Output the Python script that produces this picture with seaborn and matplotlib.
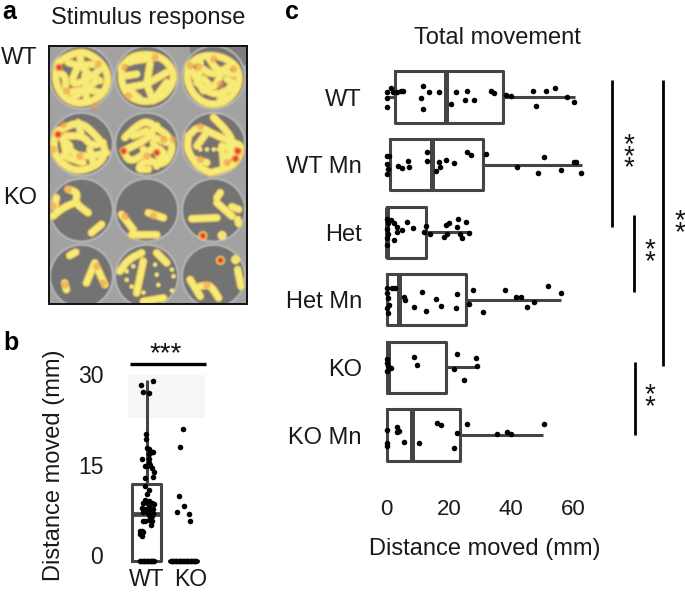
import numpy as np
import pandas as pd
import matplotlib
matplotlib.use("Agg")
import matplotlib.pyplot as plt
from matplotlib.patches import Circle, Rectangle
import seaborn as sns

sns.set_theme(style="white")
plt.rcParams['font.family'] = ['Liberation Sans', 'DejaVu Sans']

W, H = 685, 592
BOX = '#444444'
FS = 17

# ---- panel c data (mm), with vertical jitter in category units
c_groups = ['WT', 'WT Mn', 'Het', 'Het Mn', 'KO', 'KO Mn']
c_five = {
    'WT':     [0.2, 2.7, 19.0, 37.5, 60.5],
    'WT Mn':  [0.1, 1.1, 14.7, 31.0, 62.6],
    'Het':    [0.0, 0.0, 0.3, 12.6, 27.0],
    'Het Mn': [0.0, 0.0, 4.1, 25.5, 56.0],
    'KO':     [0.0, 0.0, 0.6, 19.0, 29.0],
    'KO Mn':  [0.0, 0.0, 8.1, 23.6, 50.3],
}
wt_x = [0.3, 1.3, 0.3, 2.2, 3.5, 4.5, 5.2, 0.2, 11.8, 13.6, 11.0, 11.8, 17.0, 22.3, 25.8, 25.2, 28.1, 20.8, 33.4, 34.4, 38.2, 39.8, 46.9, 51.3, 53.9, 47.9, 58.0, 60.3]
wt_j = [-.07, -.13, .01, -.07, -.08, -.09, -.09, .15, -.17, -.08, .01, .18, -.08, -.07, -.09, .05, .04, .11, -.09, -.06, -.03, -.01, -.09, -.09, -.13, .13, 0, .07]
wtmn_x = [.3, .9, .3, .6, .1, 3.8, 5.0, 6.8, 7.1, 13.1, 13.1, 15.9, 17.2, 16.7, 19.2, 21.6, 25.8, 27.0, 32.0, 42.0, 50.5, 48.7, 55.9, 60.2, 60.9, 62.5]
wtmn_j = [-.12, -.12, -.01, .07, .14, .02, .05, -.05, .04, -.19, -.06, .10, .04, -.04, -.07, -.02, -.18, -.14, -.15, .04, -.11, .13, .08, -.04, -.04, .12]
het_x = [.1, 1.4, .6, 2.4, .3, 3.3, 3.5, 5.0, 6.5, 8.5, .6, .3, 2.5, .3, 12.7, 12.0, 13.9, 18.6, 19.3, 19.0, 20.2, 23.0, 22.6, 25.5, 23.6, 24.1, 26.6]
het_j = [-.20, -.18, -.13, -.13, -.05, -.08, 0, -.03, -.15, -.06, .02, .09, .12, .19, -.09, 0, .03, .07, .02, -.10, -.14, -.19, -.08, -.15, .02, .08, .01]
hetmn_x = [.3, 1.7, 2.7, .3, .6, .7, .3, .6, 5.6, 5.9, 11.3, 8.7, 12.6, 15.9, 17.5, 22.2, 22.7, 27.9, 26.4, 30.9, 38.1, 41.6, 43.0, 47.4, 45.2, 51.7, 56.0]
hetmn_j = [-.17, -.18, -.17, -.10, -.02, .07, .12, .19, -.04, 0, -.11, .11, .16, -.01, .09, .12, -.09, -.14, .06, .18, -.14, -.04, -.04, .03, .11, -.20, -.10]
ko_x = [.3, .3, .5, 1.4, .3, 8.7, 9.9, 22.6, 21.7, 28.6, 29.1, 25.0]
ko_j = [-.12, -.06, -.02, .01, .06, -.15, -.03, -.20, .02, -.14, -.02, .18]
komn_x = [.3, 3.3, 4.1, 3.3, .2, .2, 5.6, 10.3, 16.3, 17.4, 22.7, 21.7, 25.7, 35.6, 38.8, 39.9, 50.5]
komn_j = [-.07, -.12, -.06, -.05, .12, .17, .10, .12, -.18, -.15, -.03, .19, -.17, -.01, -.04, -.02, -.16]
c_points = [(wt_x, wt_j), (wtmn_x, wtmn_j), (het_x, het_j), (hetmn_x, hetmn_j), (ko_x, ko_j), (komn_x, komn_j)]

# ---- panel b data (mm), with horizontal jitter in category units
b_groups = ['WT', 'KO']
b_five = {'WT': [-1, -1, 6.8, 11.8, 29.0], 'KO': [-1, -1, -1, -1, -1]}
b_wt_y = [28.9, 28.2, 27.0, 26.8, 20.0, 19.2, 17.8, 17.5, 17.0, 16.7, 17.0, 16.0, 16.0, 15.2, 14.8, 14.8, 14.9, 14.5, 13.8, 13.0, 12.7, 11.5, 10.8, 10.1, 9.1, 9.0, 8.6, 8.6, 8.6, 8.5, 7.8, 7.7, 7.7, 8.0, 7.7, 7.7, 7.2, 7.2, 7.2, 7.0, 6.6, 6.5, 5.7, 5.7, 5.8, 5.7, 4.9, 4.0, 3.9, 3.8, 3.5, 3.2, -1, -1, -1, -1, -1, -1, -1, -1, -1, -1, -1, -1]
b_wt_j = [.16, -.15, -.11, .05, -.03, -.03, 0, .05, .14, .07, .16, -.14, .05, .06, -.05, .02, .09, .14, .2, .18, -.05, -.05, .05, 0, -.05, .05, -.09, 0, .14, .2, -.14, -.07, 0, .07, .14, .18, -.09, 0, .09, .16, .05, .14, -.11, -.05, .07, .14, .11, -.18, -.14, -.09, -.18, -.14, -.18, -.15, -.11, -.07, -.04, 0, .04, .08, .11, .15, .18, .21]
b_ko_y = [20.9, 17.9, 9.8, 8.2, 7.1, 6.8, 5.6] + [-1] * 20
b_ko_j = [0, -.09, -.11, .02, -.18, .16, .18, -.35, -.31, -.28, -.24, -.2, -.17, -.13, -.09, -.06, -.02, .02, .06, .09, .13, .17, .2, .24, .28, .31, .35]

# ---- panel a: tracks seen in each well (picture coordinates, x3)
tracks = [
    [(175,190),(215,165),(255,158),(300,185),(325,225),(320,270),(285,305),(230,315),(185,290),(165,240),(175,190)],
    [(205,190),(235,200),(290,195)], [(235,200),(210,260),(270,240),(300,210)], [(200,280),(260,270),(300,280)], [(255,230),(260,300)],
    [(170,220),(200,230),(195,290)], [(240,170),(250,215),(300,245)], [(215,300),(285,250)],
    [(365,205),(395,170),(460,165),(505,190),(525,235),(500,285),(450,310),(395,300),(365,260),(365,205)],
    [(440,255),(500,220)], [(440,255),(450,195)], [(405,185),(470,175)], [(440,255),(385,265)], [(440,255),(460,305)], [(380,230),(410,225)],
    [(390,190),(420,170)], [(500,250),(470,290)], [(385,270),(420,300)],
    [(565,200),(600,170),(660,170),(710,200),(720,250),(690,300),(640,320),(590,300),(560,250),(565,200)],
    [(600,205),(640,230),(690,200)], [(590,250),(640,290),(690,270)], [(660,230),(640,270),(610,240)], [(680,240),(710,260)],
    [(575,215),(610,275)], [(625,175),(650,215),(700,225)], [(600,190),(595,240)], [(660,300),(700,250)],
    [(175,395),(240,365),(290,410),(320,450),(300,495),(230,520),(170,480),(160,430),(175,395)],
    [(200,410),(250,410),(275,440),(310,430)], [(200,440),(230,470),(280,470),(320,460)], [(190,470),(250,490)], [(190,420),(200,470)],
    [(170,400),(210,440)], [(235,370),(245,410)], [(280,490),(270,450)],
    [(375,415),(410,380),(440,365),(470,385),(505,410),(520,450),(490,500),(440,480),(410,510),(445,510)],
    [(370,455),(400,440),(440,420),(470,380)], [(370,455),(390,490),(440,460),(470,440),(500,470),(470,500)], [(450,410),(500,430)], [(400,410),(440,395)],
    [(460,430),(480,480)], [(430,450),(450,490)],
    [(565,410),(595,380),(640,405),(700,430),(725,440),(710,490),(670,510),(630,520)],
    [(565,410),(560,450),(590,500),(630,520)], [(640,355),(680,395),(700,430),(680,480)], [(620,400),(590,440)], [(680,440),(700,470)],
    [(580,480),(620,490)], [(665,440),(670,500)],
    [(205,570),(235,580),(225,610),(265,640)], [(225,610),(190,625),(160,650)], [(170,595),(165,625)], [(275,700),(305,675)],
    [(365,645),(400,690)], [(445,640),(490,655)], [(395,705),(470,705)],
    [(660,580),(650,595)], [(650,610),(695,650)], [(695,622),(715,630)], [(575,658),(650,655)], [(712,660),(715,672)],
    [(210,768),(228,758)], [(285,790),(260,850)], [(285,790),(315,855)], [(195,850),(200,870)],
    [(360,815),(385,780),(425,760)], [(430,785),(410,880)], [(470,760),(500,790)], [(430,905),(490,895)],
    [(570,840),(600,890)], [(600,860),(630,855),(655,895)], [(712,810),(722,860)],
]
small_dots = [(380,815),(400,800),(380,840),(395,860),(430,878),(465,795),(470,825),(475,855),(520,830),(515,810),(515,872),(600,450),(620,450),(640,450),(655,450)]
big_dots = [(608,708),(665,707),(660,782),(705,780)]
hot_strong = [(178,205),(175,405),(370,455),(470,460),(705,478),(712,455),(608,708),(660,782)]
hot_soft = [(200,275),(295,195),(375,205),(385,290),(465,175),(570,200),(595,203),(660,255),(190,375),(490,420),(600,380),(680,490),(290,800),(310,850),(195,855),(620,855),(160,620),(205,570),(375,650),(460,650),(285,320),(520,420),(240,470),(440,470),(640,180),(700,210),(160,450),(600,480)]
well_x = [245, 440, 640]
well_y = [235, 435, 632, 830]

# ---- right-hand significance marks (y extents in pixels, labels)
brackets = [(612, 80, 227), (634, 215, 292), (663, 80, 366), (635, 362, 435)]
stars = [(166, 349, 3), (629, 153, 3), (650, 252, 2), (680, 223, 2), (650, 397.5, 2)]


def px_axes(fig, l, t, r, b, **kw):
    return fig.add_axes([l / W, 1 - b / H, (r - l) / W, (b - t) / H], **kw)


def rounded(points, passes=3):
    """Corner-cutting so that hand-read tracks look like smooth paths."""
    p = np.array(points, float)
    for _ in range(passes):
        q = [p[0]]
        for a, b in zip(p[:-1], p[1:]):
            q += [a * .75 + b * .25, a * .25 + b * .75]
        q.append(p[-1])
        p = np.array(q)
    return p


fig = plt.figure(figsize=(W / 100, H / 100), dpi=100, facecolor='white')

# ---- panel a rendered softly, then placed as an image
al, at, ar, ab = 148, 138, 740, 913
fa = plt.figure(figsize=(6.0, 7.8), dpi=100)
xa = fa.add_axes([0, 0, 1, 1])
xa.set_xlim(al, ar); xa.set_ylim(ab, at); xa.axis('off')
xa.add_patch(Rectangle((al, at), ar - al, ab - at, color='#a2a2a2'))
xa.add_patch(Rectangle((570, at), 170, 60, color='#7d7d7d'))
for wy in well_y:
    for wx in well_x:
        xa.add_patch(Circle((wx, wy), 97, fc='#b9b9b9', ec='none'))
        xa.add_patch(Circle((wx, wy), 91, fc='#737373', ec='none'))
for t in tracks:
    p = rounded(t)
    xa.plot(p[:, 0], p[:, 1], color='#e8c25c', lw=18, solid_capstyle='round', solid_joinstyle='round', zorder=3)
for t in tracks:
    p = rounded(t)
    xa.plot(p[:, 0], p[:, 1], color='#f8ec78', lw=12.5, solid_capstyle='round', solid_joinstyle='round', zorder=4)
dx, dy = zip(*small_dots)
xa.scatter(dx, dy, s=110, color='#f4e470', linewidths=0, zorder=5)
dx, dy = zip(*big_dots)
xa.scatter(dx, dy, s=420, color='#f4e470', linewidths=0, zorder=5)
hx, hy = zip(*hot_soft)
xa.scatter(hx, hy, s=260, color='#ef9a4c', alpha=.6, linewidths=0, zorder=6)
hx, hy = zip(*hot_strong)
xa.scatter(hx, hy, s=300, color='#f08a45', alpha=.8, linewidths=0, zorder=6)
xa.scatter(hx, hy, s=90, color='#e5352a', alpha=.95, linewidths=0, zorder=7)
fa.canvas.draw()
img = np.asarray(fa.canvas.buffer_rgba())[..., :3].astype(float)
plt.close(fa)
kernel = np.array([1, 2, 3, 4, 5, 4, 3, 2, 1], float)
kernel /= kernel.sum()
for axis in (0, 1):
    img = np.apply_along_axis(lambda v: np.convolve(np.pad(v, 4, mode='edge'), kernel, mode='valid'), axis, img)
ia = px_axes(fig, al / 3, at / 3, ar / 3, ab / 3)
ia.imshow(img.astype(np.uint8), aspect='auto', interpolation='bilinear')
ia.set_xticks([]); ia.set_yticks([])
for s in ia.spines.values():
    s.set_visible(True); s.set_color('#111111'); s.set_linewidth(1.4)

# ---- panel b
bl, bt, br, bb = 120, 366, 210, 565
axb = px_axes(fig, bl, bt, br, bb)
axb.patch.set_alpha(0)
axb.add_patch(Rectangle((-0.5, 22.8), 2.1, 7.0, color='#f6f6f6', lw=0, zorder=0))
df_b = pd.DataFrame([(g, v) for g in b_groups for v in b_five[g]], columns=['group', 'value'])
sns.boxplot(data=df_b, x='group', y='value', order=b_groups, whis=(0, 100), width=.78,
            fill=False, color=BOX, linewidth=2.2, showcaps=False, showfliers=False,
            medianprops=dict(linewidth=3.4, solid_capstyle='butt'), ax=axb)
sns.scatterplot(x=np.array(b_wt_j) + 0, y=b_wt_y, color='black', s=16, linewidth=0, ax=axb, legend=False, zorder=4)
sns.scatterplot(x=np.array(b_ko_j) + 1, y=b_ko_y, color='black', s=16, linewidth=0, ax=axb, legend=False, zorder=4)
axb.set_xlim((bl - 146.7) / 36.7, (br - 146.7) / 36.7)
axb.set_ylim((555 - bb) / 6.03, (555 - bt) / 6.03)
axb.set_yticks([0, 15, 30])
axb.set_xticks([0, 1.2], b_groups)
axb.set_xlabel('')
axb.set_ylabel('Distance moved (mm)', fontsize=FS, color='#1a1a1a')
axb.yaxis.set_label_coords((65 - bl) / (br - bl), (bb - 465) / (bb - bt))
axb.tick_params(axis='y', length=0, pad=12, labelsize=FS - .5, labelcolor='#1a1a1a')
axb.tick_params(axis='x', length=0, pad=2.5, labelsize=FS - .5, labelcolor='#1a1a1a')
sns.despine(ax=axb, left=True, bottom=True)

# ---- panel c
cl, ct, cr, cb = 380, 60, 590, 495
axc = px_axes(fig, cl, ct, cr, cb)
axc.patch.set_alpha(0)
df_c = pd.DataFrame([(g, v) for g in c_groups for v in c_five[g]], columns=['group', 'value'])
sns.boxplot(data=df_c, y='group', x='value', order=c_groups, orient='h', whis=(0, 100), width=.76,
            fill=False, color=BOX, linewidth=2.2, showcaps=False, showfliers=False,
            medianprops=dict(linewidth=3.6, solid_capstyle='butt'), ax=axc)
for i, (vals, jit) in enumerate(c_points):
    sns.scatterplot(x=vals, y=np.array(jit) + i, color='black', s=16, linewidth=0, ax=axc, legend=False, zorder=4)
axc.set_xlim((cl - 386.5) / 3.117, (cr - 386.5) / 3.117)
axc.set_ylim((cb - 97) / 67.6, (ct - 97) / 67.6)
axc.set_xticks([0, 20, 40, 60])
axc.set_xlabel('Distance moved (mm)', fontsize=FS, color='#1a1a1a')
axc.xaxis.set_label_coords((485 - cl) / (cr - cl), (cb - 538) / (cb - ct))
axc.set_ylabel('')
axc.tick_params(axis='y', length=0, pad=13, labelsize=FS, labelcolor='#1a1a1a')
axc.tick_params(axis='x', length=0, pad=3, labelsize=FS - 1, labelcolor='#1a1a1a')
sns.despine(ax=axc, left=True, bottom=True)

# ---- annotation layer in pixel coordinates
ov = fig.add_axes([0, 0, 1, 1], zorder=10)
ov.set_xlim(0, W); ov.set_ylim(H, 0); ov.axis('off')
for x, y0, y1 in brackets:
    ov.plot([x, x], [y0, y1], color='black', lw=2.0, solid_capstyle='butt')
ov.plot([130, 206], [363.5, 363.5], color='black', lw=2.4, solid_capstyle='butt')
star_font = dict(fontsize=20, color='#111111')
for k, (x, y, n) in enumerate(stars):
    if k == 0:
        ov.text(x, y + 5, '*' * n, ha='center', va='center', **star_font)
    else:
        ov.text(x, y + 4, '\n'.join('*' * n), ha='center', va='center', linespacing=.28, **star_font)
lab = dict(fontsize=FS, color='#1a1a1a', va='center')
ov.text(148, 18, 'Stimulus response', ha='center', **lab)
ov.text(497, 38, 'Total movement', ha='center', **lab)
ov.text(1, 58, 'WT', ha='left', **lab)
ov.text(3, 198, 'KO', ha='left', **lab)
pan = dict(fontsize=18, fontweight='bold', color='black', va='baseline', ha='left')
ov.text(2, 19, 'a', **pan)
ov.text(3, 350, 'b', **pan)
ov.text(285, 19, 'c', **pan)

fig.savefig('out.png', dpi=100)
